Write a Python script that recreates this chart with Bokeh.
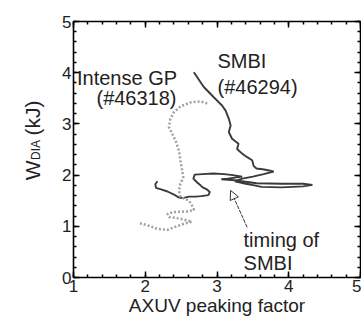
import math
from bokeh.plotting import figure
from bokeh.layouts import row
from bokeh.core.properties import value
from bokeh.models import LinearAxis, Label, Arrow, NormalHead, SingleIntervalTicker
from bokeh.embed import file_html
from bokeh.resources import INLINE

# SMBI (#46294) trajectory
smbi_x = [2.17, 2.14, 2.15, 2.22, 2.31, 2.40, 2.47, 2.52, 2.61, 2.70, 2.78, 2.88, 2.90, 2.86,
          2.80, 2.77, 2.72, 2.67, 2.69, 2.80, 2.95, 3.10, 3.22, 3.35, 3.15, 3.06, 3.25, 3.45,
          3.55, 3.90, 4.20, 4.33, 4.20, 3.90, 3.62, 3.52, 3.40, 3.25, 3.35, 3.50, 3.65,
          3.79, 3.66, 3.55, 3.51, 3.49, 3.42, 3.35, 3.28, 3.30, 3.21, 3.165, 3.19, 3.165,
          3.12, 3.07, 2.955, 2.816, 2.677]
smbi_y = [1.88, 1.82, 1.75, 1.72, 1.68, 1.62, 1.56, 1.55, 1.58, 1.58, 1.59, 1.61, 1.67, 1.72,
          1.76, 1.80, 1.86, 1.93, 2.01, 2.02, 2.03, 2.02, 2.00, 1.97, 1.93, 1.92, 1.90, 1.86,
          1.84, 1.83, 1.83, 1.81, 1.78, 1.76, 1.77, 1.80, 1.83, 1.88, 1.93, 1.97, 2.02,
          2.07, 2.11, 2.13, 2.18, 2.29, 2.35, 2.42, 2.51, 2.61, 2.71, 2.84, 2.97, 3.10,
          3.26, 3.36, 3.52, 3.72, 4.01]

# Intense GP (#46318) trajectory
gp_x = [1.925, 2.03, 2.17, 2.31, 2.40, 2.54, 2.65, 2.49, 2.33, 2.31, 2.40, 2.585, 2.68, 2.65,
        2.61, 2.49, 2.47, 2.49, 2.53, 2.515, 2.49, 2.47, 2.42, 2.375, 2.33, 2.35, 2.40, 2.49,
        2.63, 2.77, 2.885]
gp_y = [1.06, 1.02, 0.95, 0.93, 0.98, 1.05, 1.09, 1.15, 1.18, 1.24, 1.28, 1.29, 1.32, 1.41,
        1.50, 1.57, 1.70, 1.83, 1.96, 2.09, 2.28, 2.48, 2.68, 2.81, 2.94, 3.10, 3.23, 3.34,
        3.42, 3.44, 3.39]

x_range = (1, 5)
y_range = (0, 5)
x_title = "AXUV peaking factor"
y_title_parts = ["W", "DIA", "(kJ)"]

FONT = "Liberation Sans"
TXT = "#222222"
LEFT_W = 56

# ---- narrow strip holding the y-axis title (W with subscript DIA) ----
t = figure(width=LEFT_W, height=324, x_range=(0, LEFT_W), y_range=(0, 324),
           output_backend="svg", toolbar_location=None,
           min_border=0, min_border_left=0, min_border_right=0,
           min_border_top=0, min_border_bottom=0)
t.axis.visible = False
t.grid.visible = False
t.outline_line_color = None
t.background_fill_color = "white"
t.border_fill_color = "white"
t.text(x=[32, 32], y=[135.5, 202], text=[y_title_parts[0], y_title_parts[2]],
       angle=math.pi / 2, text_font=value(FONT), text_font_size="21px",
       text_color=TXT, text_align="center", text_baseline="alphabetic")
t.text(x=[35.5], y=[161.5], text=[y_title_parts[1]],
       angle=math.pi / 2, text_font=value(FONT), text_font_size="12px",
       text_color=TXT, text_align="center", text_baseline="alphabetic")

# ---- main plot ----
p = figure(width=361 - LEFT_W, height=324, x_range=x_range, y_range=y_range,
           output_backend="svg", toolbar_location=None,
           min_border_left=73 - LEFT_W, min_border_right=1, min_border_top=21,
           min_border_bottom=47)
p.grid.visible = False
p.outline_line_color = None
p.background_fill_color = "white"
p.border_fill_color = "white"

p.add_layout(LinearAxis(), "above")
p.add_layout(LinearAxis(), "right")

for ax in p.axis:
    ax.ticker = SingleIntervalTicker(interval=1, num_minor_ticks=5)
    ax.axis_line_color = "black"
    ax.axis_line_width = 1.6
    ax.major_tick_line_color = "black"
    ax.major_tick_line_width = 1.5
    ax.minor_tick_line_color = "black"
    ax.minor_tick_line_width = 1.5
    ax.major_tick_in = 6
    ax.major_tick_out = 0
    ax.minor_tick_in = 3
    ax.minor_tick_out = 0
    ax.major_label_text_font = FONT
    ax.major_label_text_font_size = "17px"
    ax.major_label_text_color = TXT
    ax.major_label_standoff = 2

for ax in (p.above[0], p.right[0]):
    ax.major_label_text_color = None
    ax.major_label_text_font_size = "1px"
    ax.major_label_standoff = 0
    ax.axis_label_standoff = 0

xb = p.below[0]
xb.axis_label = x_title
xb.axis_label_text_font = FONT
xb.axis_label_text_font_size = "19px"
xb.axis_label_text_font_style = "normal"
xb.axis_label_text_color = TXT
xb.axis_label_standoff = 0

p.line(smbi_x, smbi_y, line_color="#3a3a3a", line_width=1.9)
p.line(gp_x, gp_y, line_color="#a0a0a0", line_width=2.5, line_dash="2 2")

def lab(x, y, txt, size="20px", align="left"):
    p.add_layout(Label(x=x, y=y, text=txt, text_font=FONT, text_font_size=size,
                       text_color=TXT, text_align=align, text_baseline="alphabetic"))

lab(1.746, 3.89, "Intense GP", align="center")
lab(1.878, 3.50, "(#46318)", align="center")
lab(3.007, 4.22, "SMBI")
lab(3.007, 3.73, "(#46294)")
lab(3.37, 0.74, "timing of")
lab(3.37, 0.28, "SMBI")

p.add_layout(Arrow(end=NormalHead(size=9, fill_color="white", line_color="#333333", line_width=1),
                   x_start=3.42, y_start=0.98, x_end=3.19, y_end=1.70,
                   line_color="#333333", line_width=1, line_dash="4 1"))

layout = row(t, p, spacing=0)
open("out.html", "w").write(file_html(layout, INLINE))
